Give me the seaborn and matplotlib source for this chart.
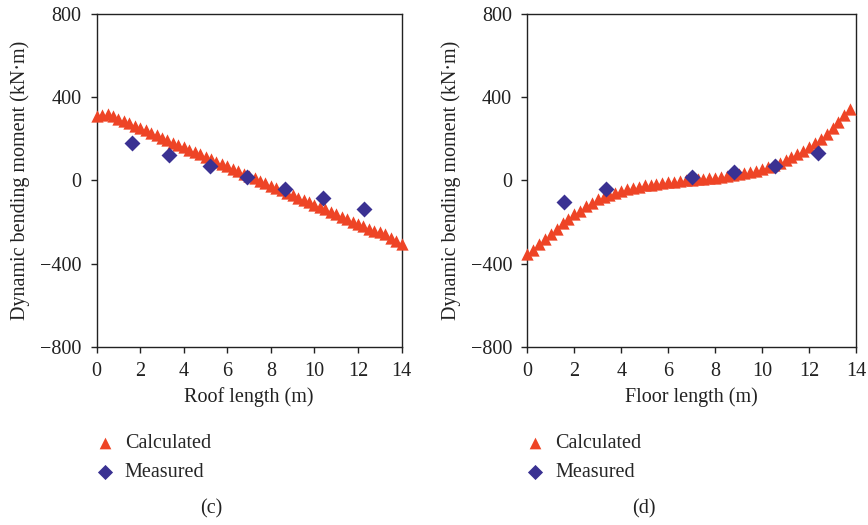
import numpy as np
import pandas as pd
import matplotlib
matplotlib.use("Agg")
import matplotlib.pyplot as plt
import seaborn as sns

# Roof (panel c): calculated dynamic bending moment along the roof
roof_x = [0.0, 0.25, 0.5, 0.75, 1.0, 1.25, 1.5, 1.75, 2.0, 2.25, 2.5, 2.75,
          3.0, 3.25, 3.5, 3.75, 4.0, 4.25, 4.5, 4.75, 5.0, 5.25, 5.5, 5.75,
          6.0, 6.25, 6.5, 6.75, 7.0, 7.25, 7.5, 7.75, 8.0, 8.25, 8.5, 8.75,
          9.0, 9.25, 9.5, 9.75, 10.0, 10.25, 10.5, 10.75, 11.0, 11.25, 11.5,
          11.75, 12.0, 12.25, 12.5, 12.75, 13.0, 13.25, 13.5, 13.75, 14.0]
roof_calc = [310, 316, 320, 308, 297, 285, 274, 263, 251, 240, 228, 217,
             205, 194, 182, 171, 159, 148, 136, 125, 113, 101, 90, 78,
             67, 55, 44, 32, 21, 9, -2, -14, -25, -37, -48, -60,
             -71, -83, -94, -106, -117, -129, -140, -152, -163, -175, -186,
             -198, -209, -221, -232, -242, -250, -260, -275, -290, -305]
roof_meas_x = [1.6, 3.3, 5.2, 6.9, 8.65, 10.4, 12.3]
roof_meas = [180, 122, 70, 17, -41, -84, -137]

# Floor (panel d)
floor_x = [0.0, 0.25, 0.5, 0.75, 1.0, 1.25, 1.5, 1.75, 2.0, 2.25, 2.5, 2.75,
           3.0, 3.25, 3.5, 3.75, 4.0, 4.25, 4.5, 4.75, 5.0, 5.25, 5.5, 5.75,
           6.0, 6.25, 6.5, 6.75, 7.0, 7.25, 7.5, 7.75, 8.0, 8.25, 8.5, 8.75,
           9.0, 9.25, 9.5, 9.75, 10.0, 10.25, 10.5, 10.75, 11.0, 11.25, 11.5,
           11.75, 12.0, 12.25, 12.5, 12.75, 13.0, 13.25, 13.5, 13.75]
floor_calc = [-355, -335, -305, -280, -258, -235, -205, -185, -162, -145, -125, -108,
              -92, -80, -70, -60, -50, -42, -36, -30, -24, -20, -16, -12,
              -9, -6, -3, 0, 3, 6, 8, 10, 13, 17, 21, 25,
              30, 35, 40, 46, 53, 62, 72, 83, 96, 110, 125,
              142, 160, 178, 200, 222, 252, 280, 312, 342]
floor_meas_x = [1.55, 3.35, 7.0, 8.8, 10.55, 12.4]
floor_meas = [-103, -41, 17, 41, 70, 132]

x_ticks = [0, 2, 4, 6, 8, 10, 12, 14]
y_ticks = [-800, -400, 0, 400, 800]

calc_color = "#EE4426"
meas_color = "#3A3192"
ink = "#222222"

sns.set_theme(style="white")
plt.rcParams["font.family"] = ["Liberation Serif", "DejaVu Serif"]
plt.rcParams["axes.linewidth"] = 1.0
plt.rcParams["axes.edgecolor"] = ink

fig = plt.figure(figsize=(8.68, 5.25), dpi=100)
W, H = 868, 525
FS = 14.5

panels = [
    dict(rect=(96.7, 14, 401.5, 346.7), x=roof_x, y=roof_calc,
         mx=roof_meas_x, my=roof_meas, xlabel="Roof length (m)", tag="(c)",
         tag_x=211, ylab_x=20),
    dict(rect=(527.3, 14, 856, 346.7), x=floor_x, y=floor_calc,
         mx=floor_meas_x, my=floor_meas, xlabel="Floor length (m)", tag="(d)",
         tag_x=644, ylab_x=451),
]

for p in panels:
    l, t, r, b = p["rect"]
    ax = fig.add_axes([l / W, 1 - b / H, (r - l) / W, (b - t) / H])
    calc_df = pd.DataFrame({"x": p["x"], "y": p["y"]})
    meas_df = pd.DataFrame({"x": p["mx"], "y": p["my"]})
    sns.scatterplot(data=calc_df, x="x", y="y", marker="^", s=78,
                    color=calc_color, linewidth=0, ax=ax, label="Calculated",
                    clip_on=False, zorder=3)
    sns.scatterplot(data=meas_df, x="x", y="y", marker="D", s=66,
                    color=meas_color, linewidth=0, ax=ax, label="Measured",
                    clip_on=False, zorder=4)
    ax.set_xlim(0, 14)
    ax.set_ylim(-800, 800)
    ax.set_xticks(x_ticks)
    ax.set_yticks(y_ticks)
    ax.set_yticklabels([str(v).replace("-", "\u2212") for v in y_ticks])
    ax.tick_params(axis="both", direction="out", length=4.5, width=1.0,
                   labelsize=FS, colors=ink, bottom=True, left=True)
    ax.tick_params(axis="x", pad=6.5)
    ax.tick_params(axis="y", pad=6.5)
    ax.set_xlabel(p["xlabel"], fontsize=FS, color=ink, va="center")
    ax.xaxis.set_label_coords(0.5, (b - 397) / (b - t))
    ax.set_ylabel("Dynamic bending moment (kN\u00b7m)", fontsize=FS,
                  color=ink, va="center")
    ax.yaxis.set_label_coords((p["ylab_x"] - l) / (r - l), 0.5)
    for s in ax.spines.values():
        s.set_visible(True)
        s.set_color(ink)
    ax.legend(loc="upper left",
              bbox_to_anchor=((l - 2) / W, 1 - 434 / H),
              bbox_transform=fig.transFigure, frameon=False,
              fontsize=FS, handlelength=1.0, handletextpad=0.5,
              labelspacing=0.5, borderpad=0, borderaxespad=0,
              markerscale=0.95)
    fig.text(p["tag_x"] / W, 1 - 509 / H, p["tag"], ha="center", va="center",
             fontsize=FS, color=ink)

fig.savefig("out.png", dpi=100)
